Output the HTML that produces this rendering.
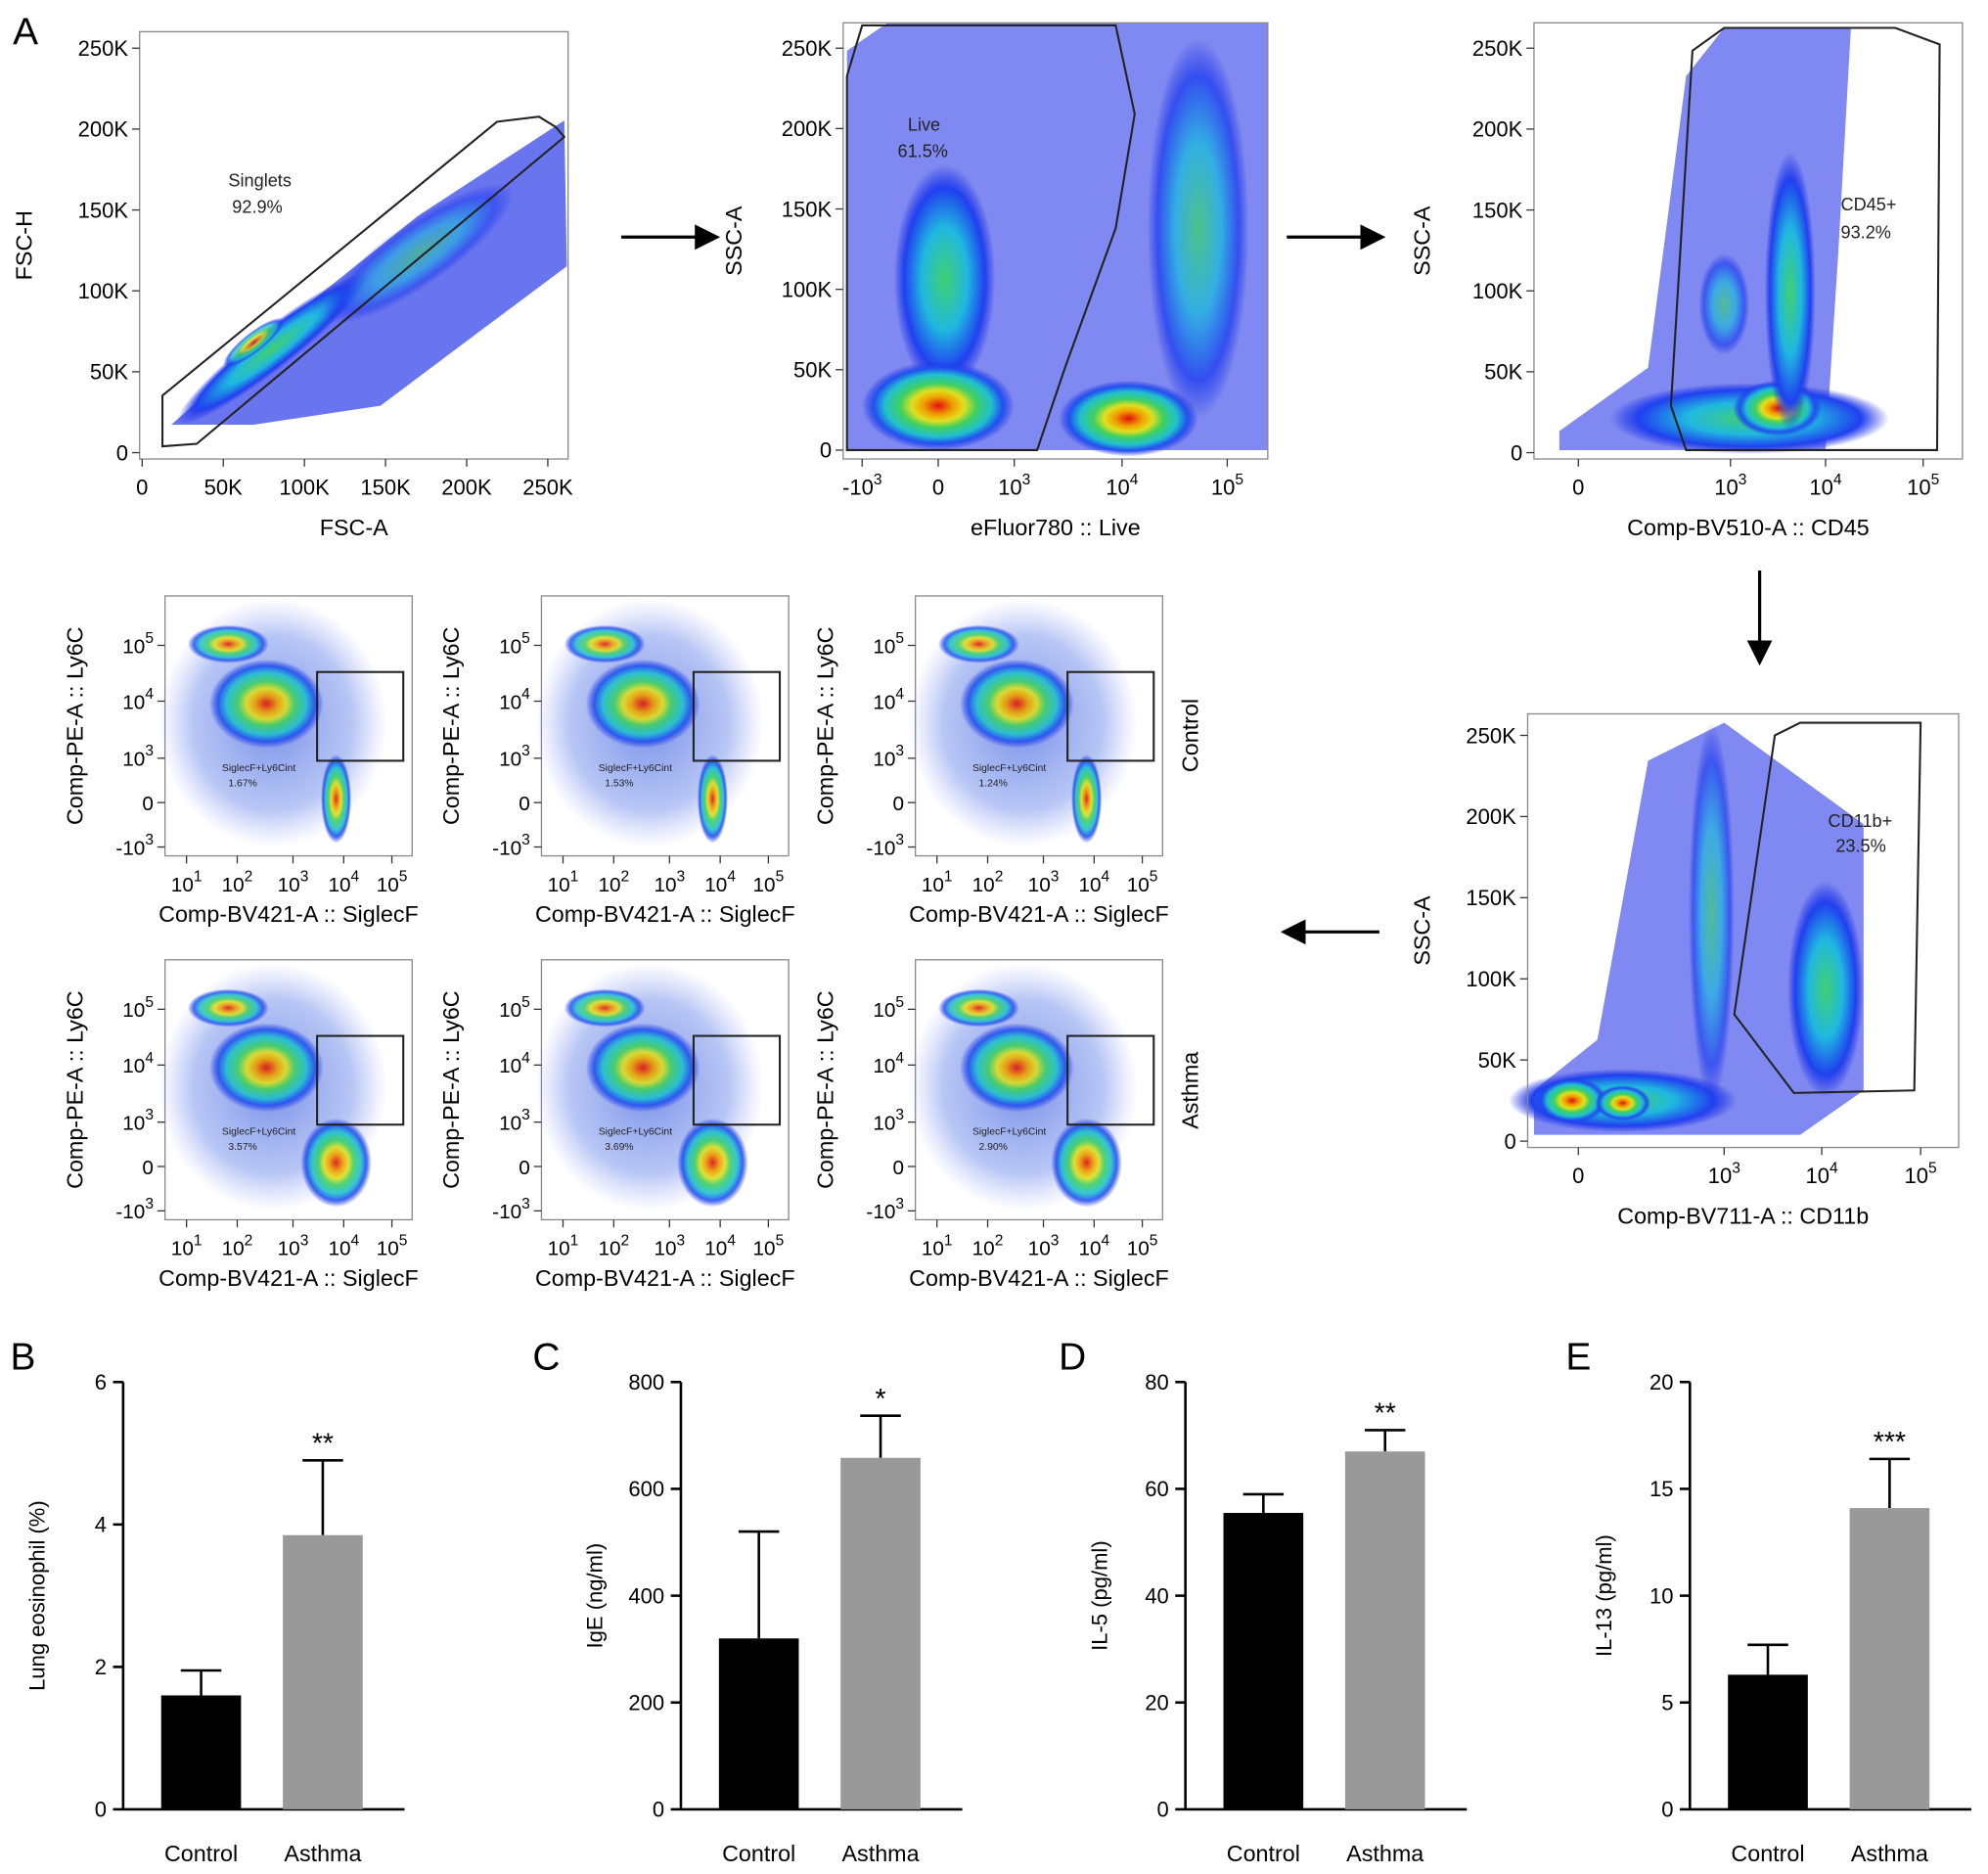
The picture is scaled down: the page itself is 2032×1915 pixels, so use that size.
<!DOCTYPE html>
<html><head><meta charset="utf-8">
<style>
html,body{margin:0;padding:0;background:#fff;}
svg{display:block;font-family:"Liberation Sans",Arial,sans-serif;}
</style></head>
<body>
<svg id="fig" width="2032" height="1915" viewBox="0 0 1568 1478" xmlns="http://www.w3.org/2000/svg">
<defs>
<radialGradient id="heat">
<stop offset="0" stop-color="#e01010"/>
<stop offset="0.2" stop-color="#f0a000"/>
<stop offset="0.35" stop-color="#e0e020"/>
<stop offset="0.5" stop-color="#40d060"/>
<stop offset="0.7" stop-color="#20c0d0"/>
<stop offset="0.85" stop-color="#2050f0"/>
<stop offset="1" stop-color="#2030e0" stop-opacity="0"/>
</radialGradient>
<radialGradient id="cool">
<stop offset="0" stop-color="#40d070"/>
<stop offset="0.45" stop-color="#20b8e0"/>
<stop offset="0.8" stop-color="#2040f0"/>
<stop offset="1" stop-color="#2030e0" stop-opacity="0"/>
</radialGradient>
<radialGradient id="haze">
<stop offset="0" stop-color="#4060e0" stop-opacity="0.7"/>
<stop offset="0.7" stop-color="#6080e8" stop-opacity="0.45"/>
<stop offset="1" stop-color="#8090f0" stop-opacity="0"/>
</radialGradient>
<marker id="ah" markerWidth="8" markerHeight="8" refX="6" refY="4" orient="auto"><path d="M0,0 L8,4 L0,8 z" fill="#000"/></marker>
</defs>
<g id="root"></g>
</svg>
<script>
const NS='http://www.w3.org/2000/svg';
const root=document.getElementById('root');
function mk(tag,attrs,parent,txt){const e=document.createElementNS(NS,tag);for(const k in attrs)e.setAttribute(k,attrs[k]);if(txt!==undefined)e.textContent=txt;(parent||root).appendChild(e);return e;}

// ---------- Bar chart data ----------
const barCategories=['Control','Asthma'];
const eosMeans=[1.6,3.85], eosErr=[1.95,4.9];
const igeMeans=[320,658], igeErr=[520,737];
const il5Means=[55.5,67], il5Err=[59,71];
const il13Means=[6.3,14.1], il13Err=[7.7,16.4];
const eosTicks=[0,2,4,6], igeTicks=[0,200,400,600,800], il5Ticks=[0,20,40,60,80], il13Ticks=[0,5,10,15,20];
const sigMarks=['**','*','**','***'];

// ---------- Panel letters ----------
[['A',10,35],['B',8,1080],['C',420,1080],['D',835,1080],['E',1235,1080]].forEach(p=>{
 const t=mk('text',{x:p[1],y:p[2],'font-size':30});t.textContent=p[0];
 
 
});

// ---------- Arrows ----------
[[490,187,563,187],[1015,187,1088,187],[1388,450,1388,520],[1088,735,1015,735]].forEach((a,i)=>{
 const l=mk('line',{x1:a[0],y1:a[1],x2:a[2],y2:a[3],stroke:'#000','stroke-width':2.5,'marker-end':'url(#ah)'});
 
 
});

// ---------- Flow plot helper ----------
function flowPlot(o){
 const g=mk('g',{});
 
 
 (o.shapes||[]).forEach(s=>{
  if(s.t==='poly')mk('polygon',{points:s.p,fill:'#2a3ae8',opacity:s.op||0.7},g);
  else mk('ellipse',{cx:s.cx,cy:s.cy,rx:s.rx,ry:s.ry,fill:'url(#'+(s.g||'heat')+')',opacity:s.op||1,transform:s.rot?`rotate(${s.rot} ${s.cx} ${s.cy})`:''},g);
 });
 mk('rect',{x:o.x0,y:o.y0,width:o.x1-o.x0,height:o.y1-o.y0,fill:'none',stroke:'#888','stroke-width':1},g);
 if(o.gate){const gt=mk('polygon',{points:o.gate,fill:'none',stroke:'#222','stroke-width':1.6},g);
  }
 if(o.rect){const r=mk('rect',{x:o.rect[0],y:o.rect[1],width:o.rect[2],height:o.rect[3],fill:'none',stroke:'#222','stroke-width':1.6},g);
  }
 const fs=o.fs||17;
 o.yt.forEach(t=>{mk('line',{x1:o.x0-6,y1:t[1],x2:o.x0,y2:t[1],stroke:'#333'},g);
  const tx=mk('text',{x:o.x0-9,y:t[1]+6,'font-size':fs,'text-anchor':'end'},g);setTick(tx,t[0]);});
 o.xt.forEach(t=>{mk('line',{x1:t[1],y1:o.y1,x2:t[1],y2:o.y1+6,stroke:'#333'},g);
  const tx=mk('text',{x:t[1],y:o.y1+28,'font-size':fs,'text-anchor':'middle'},g);setTick(tx,t[0]);});
 const xl=mk('text',{x:(o.x0+o.x1)/2,y:o.y1+o.xlOff,'font-size':18,'text-anchor':'middle'},g,o.xl);
 
 const yx=o.ylx, yy=(o.y0+o.y1)/2;
 const yl=mk('text',{x:yx,y:yy,'font-size':18,'text-anchor':'middle',transform:`rotate(-90 ${yx} ${yy})`},g,o.yl);
 
 (o.texts||[]).forEach(t=>mk('text',{x:t[1],y:t[2],'font-size':t[3]||14,fill:'#222'},g,t[0]));
 return g;
}
function setTick(el,s){
 const m=s.match(/^(-?10)\^(\d)$/);
 if(m){el.textContent=m[1];const sp=document.createElementNS(NS,'tspan');sp.setAttribute('dy',-8);sp.setAttribute('font-size',12);sp.textContent=m[2];el.appendChild(sp);}
 else el.textContent=s;
}
const linY=(y0,y1)=>['0','50K','100K','150K','200K','250K'].map((l,i)=>[l,y0+(y1-y0)*i/5]);

// Plot 1 singlets
flowPlot({name:'singlets-plot',x0:110,y0:25,x1:448,y1:362,
 shapes:[{t:'poly',p:'135,335 230,250 330,170 445,95 447,210 380,260 300,320 200,335'},
  {t:'e',cx:215,cy:275,rx:95,ry:16,rot:-38,g:'cool'},{t:'e',cx:330,cy:200,rx:90,ry:25,rot:-35,g:'cool',op:0.6},{t:'e',cx:200,cy:270,rx:30,ry:8,rot:-38,op:0.8}],
 gate:'128,352 128,312 392,96 425,92 438,100 445,108 155,350',
 yt:linY(357,38),xt:[['0',112],['50K',176],['100K',240],['150K',304],['200K',368],['250K',432]],
 xl:'FSC-A',xlOff:60,yl:'FSC-H',ylx:25,texts:[['Singlets',180,147],['92.9%',183,168]]});

// Plot 2 live
flowPlot({name:'live-plot',x0:665,y0:18,x1:1000,y1:362,
 shapes:[{t:'poly',p:'668,40 700,18 1000,18 1000,355 668,355',op:0.6},
  {t:'e',cx:745,cy:220,rx:40,ry:90,g:'cool'},{t:'e',cx:740,cy:320,rx:60,ry:35},{t:'e',cx:890,cy:330,rx:55,ry:30},
  {t:'e',cx:945,cy:180,rx:40,ry:150,g:'cool',op:0.8}],
 gate:'668,60 680,20 880,20 895,90 880,180 840,290 818,355 668,355',
 yt:linY(355,38),xt:[['-10^3',680],['0',740],['10^3',800],['10^4',885],['10^5',968]],
 xl:'eFluor780 :: Live',xlOff:60,yl:'SSC-A',ylx:585,texts:[['Live',716,103],['61.5%',708,124]]});

// Plot 3 CD45
flowPlot({name:'cd45-plot',x0:1210,y0:18,x1:1548,y1:362,
 shapes:[{t:'poly',p:'1230,340 1300,290 1330,60 1360,22 1460,22 1450,200 1440,355 1230,355',op:0.6},
  {t:'e',cx:1380,cy:330,rx:110,ry:28,g:'cool'},{t:'e',cx:1402,cy:322,rx:35,ry:22},{t:'e',cx:1412,cy:230,rx:20,ry:110,g:'cool'},{t:'e',cx:1360,cy:240,rx:20,ry:40,g:'cool',op:0.7}],
 gate:'1318,320 1335,40 1360,22 1495,22 1530,35 1528,355 1330,355',
 yt:linY(357,38),xt:[['0',1245],['10^3',1365],['10^4',1440],['10^5',1517]],
 xl:'Comp-BV510-A :: CD45',xlOff:60,yl:'SSC-A',ylx:1128,texts:[['CD45+',1452,166],['93.2%',1452,188]]});

// Plot 4 CD11b
flowPlot({name:'cd11b-plot',x0:1205,y0:563,x1:1545,y1:905,
 shapes:[{t:'poly',p:'1210,860 1260,820 1300,600 1360,570 1470,650 1470,860 1420,895 1210,895',op:0.6},
  {t:'e',cx:1280,cy:868,rx:90,ry:25,g:'cool'},{t:'e',cx:1240,cy:868,rx:28,ry:18},{t:'e',cx:1280,cy:870,rx:22,ry:14},
  {t:'e',cx:1440,cy:780,rx:30,ry:85,g:'cool'},{t:'e',cx:1350,cy:720,rx:18,ry:150,g:'cool',op:0.7}],
 gate:'1368,800 1400,580 1420,570 1515,570 1510,860 1415,862',
 yt:linY(900,580),xt:[['0',1245],['10^3',1360],['10^4',1437],['10^5',1515]],
 xl:'Comp-BV711-A :: CD11b',xlOff:60,yl:'SSC-A',ylx:1128,texts:[['CD11b+',1442,652],['23.5%',1448,672]]});

// Small SiglecF plots
const smallX=[130,427,722], smallY=[470,757];
const smallPct=[['1.67%','1.53%','1.24%'],['3.57%','3.69%','2.90%']];
smallY.forEach((y0,r)=>smallX.forEach((x0,c)=>{
 flowPlot({name:`siglecf-plot-${r?'asthma':'control'}-${c+1}`,x0:x0,y0:y0,x1:x0+195,y1:y0+205,fs:16,
  shapes:[{t:'e',cx:x0+85,cy:y0+100,rx:90,ry:98,g:'haze'},{t:'e',cx:x0+50,cy:y0+38,rx:32,ry:15,op:0.85},{t:'e',cx:x0+80,cy:y0+85,rx:45,ry:35,op:0.9},
   {t:'e',cx:x0+135,cy:y0+160,rx:r?28:12,ry:35,op:0.9}],
  rect:[x0+120,y0+60,68,70],
  yt:[['10^5',y0+39],['10^4',y0+83],['10^3',y0+128],['0',y0+163],['-10^3',y0+198]],
  xt:[['10^1',x0+17],['10^2',x0+57],['10^3',x0+101],['10^4',x0+141],['10^5',x0+179]],
  xl:'Comp-BV421-A :: SiglecF',xlOff:52,yl:'Comp-PE-A :: Ly6C',ylx:x0-65,
  texts:[['SiglecF+Ly6Cint',x0+45,y0+138,8],[smallPct[r][c],x0+50,y0+150,8]]});
}));
[['Control',580],['Asthma',860]].forEach(g=>{
 const t=mk('text',{x:945,y:g[1],'font-size':18,'text-anchor':'middle',transform:`rotate(-90 945 ${g[1]})`},root,g[0]);
 
});

// ---------- Bar charts ----------
function barChart(name,ax,means,errs,ticks,ylab,sig){
 const g=mk('g',{});
 
 
 const yTop=1090,yBot=1427,max=ticks[ticks.length-1];
 const yS=v=>yBot-(v/max)*(yBot-yTop);
 mk('line',{x1:ax,y1:yTop,x2:ax,y2:yBot,stroke:'#000','stroke-width':2},g);
 mk('line',{x1:ax,y1:yBot,x2:ax+222,y2:yBot,stroke:'#000','stroke-width':2},g);
 ticks.forEach(t=>{mk('line',{x1:ax-8,y1:yS(t),x2:ax,y2:yS(t),stroke:'#000','stroke-width':2},g);
  mk('text',{x:ax-13,y:yS(t)+6,'font-size':17,'text-anchor':'end'},g,String(t));});
 const cols=['#000','#999'];
 means.forEach((m,i)=>{
  const bx=ax+30+i*96, bw=63, cx=bx+bw/2;
  mk('line',{x1:cx,y1:yS(m),x2:cx,y2:yS(errs[i]),stroke:'#000','stroke-width':2},g);
  mk('line',{x1:cx-16,y1:yS(errs[i]),x2:cx+16,y2:yS(errs[i]),stroke:'#000','stroke-width':2},g);
  const b=mk('rect',{x:bx,y:yS(m),width:bw,height:yBot-yS(m),fill:cols[i]},g);
  
  
  mk('text',{x:cx,y:1468,'font-size':18,'text-anchor':'middle'},g,barCategories[i]);
  if(i===1)mk('text',{x:cx,y:yS(errs[i])-6,'font-size':22,'text-anchor':'middle'},g,sig);
 });
 const lx=ax-62, ly=(yTop+yBot)/2;
 const yl=mk('text',{x:lx,y:ly,'font-size':17,'text-anchor':'middle',transform:`rotate(-90 ${lx} ${ly})`},g,ylab);
 
}
barChart('eosinophil-chart',97,eosMeans,eosErr,eosTicks,'Lung eosinophil (%)',sigMarks[0]);
barChart('ige-chart',537,igeMeans,igeErr,igeTicks,'IgE (ng/ml)',sigMarks[1]);
barChart('il5-chart',935,il5Means,il5Err,il5Ticks,'IL-5 (pg/ml)',sigMarks[2]);
barChart('il13-chart',1333,il13Means,il13Err,il13Ticks,'IL-13 (pg/ml)',sigMarks[3]);
</script>
</body></html>
